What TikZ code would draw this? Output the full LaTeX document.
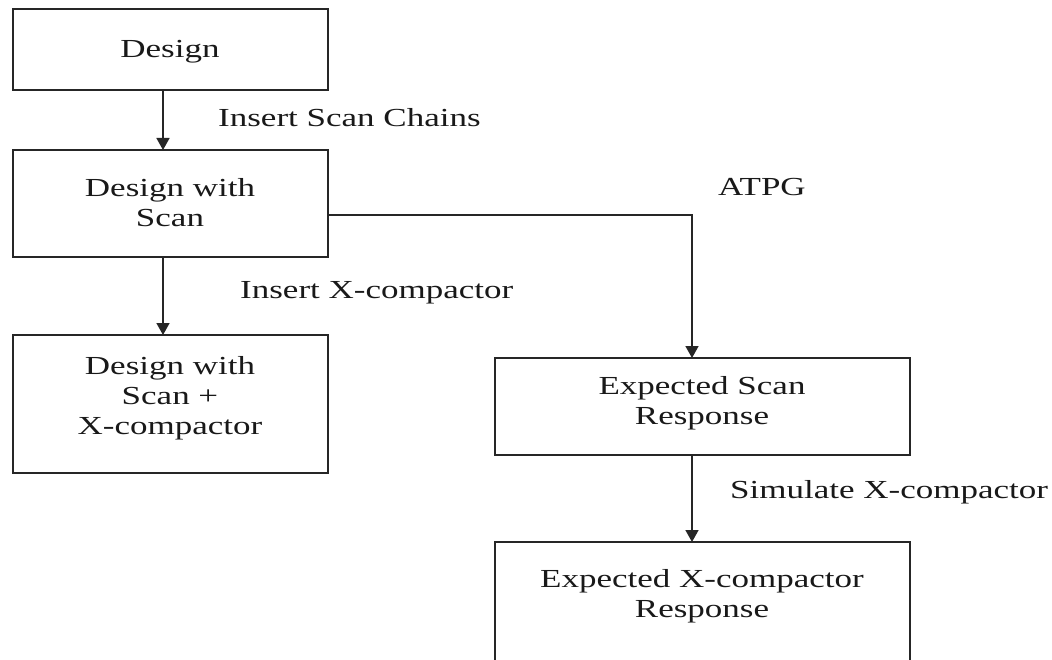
\documentclass[tikz,border=0pt]{standalone}
\usepackage{fontspec}
\setmainfont{Liberation Serif}
\usepackage{graphicx}
\usetikzlibrary{arrows.meta}
% text in this flow chart is set slightly widened
\newcommand\wtext[1]{\scalebox{1.346}[1]{#1}}
\begin{document}
\begin{tikzpicture}[x=1pt,y=-1pt,
  box/.style={draw=black!85, line width=1.8pt, minimum width=315pt, inner sep=0pt, outer sep=0pt},
  widebox/.style={box, minimum width=415pt},
  txt/.style={font=\fontsize{26}{30}\selectfont, align=center, inner sep=0pt, text=black!90},
  lbl/.style={txt, anchor=west},
  link/.style={draw=black!85, line width=1.6pt},
  arr/.style={link, -{Triangle[width=13pt,length=12pt]}}]
\useasboundingbox (0,0) rectangle (1052,660);
\fill[white] (0,0) rectangle (1052,660);
\clip (0,0) rectangle (1052,660);

% boxes
\node[box, minimum height=81pt]  (design)  at (170.5,49.5) {};
\node[box, minimum height=107pt] (scan)    at (170.5,203.5) {};
\node[box, minimum height=138pt] (xcomp)   at (170.5,404) {};
\node[widebox, minimum height=97pt]  (expscan) at (702.5,406.5) {};
\node[widebox, minimum height=160pt] (expx)    at (702.5,622) {};

% box texts
\node[txt] (tdesign)  at (170,52)  {\wtext{Design}};
\node[txt] (tscan)    at (170,203) {\wtext{Design with}\\\wtext{Scan}};
\node[txt] (txcomp)   at (170,398) {\wtext{Design with}\\\wtext{Scan +}\\\wtext{X-compactor}};
\node[txt] (texpscan) at (702,403) {\wtext{Expected Scan}\\\wtext{Response}};
\node[txt] (texpx)    at (702,596) {\wtext{Expected X-compactor}\\\wtext{Response}};

% connectors
\coordinate (lx) at (163,0);
\coordinate (rx) at (692,0);
\coordinate (atpgy) at (0,215);
\draw[arr] (design.south -| lx) -- (scan.north -| lx);
\draw[arr] (scan.south -| lx) -- (xcomp.north -| lx);
\draw[arr] (scan.east |- atpgy) -| (expscan.north -| rx);
\draw[arr] (expscan.south -| rx) -- (expx.north -| rx);

% connector labels
\node[lbl] (l1) at (218,118) {\wtext{Insert Scan Chains}};
\node[lbl] (l2) at (718,187) {\wtext{ATPG}};
\node[lbl] (l3) at (240,293) {\wtext{Insert X-compactor}};
\node[lbl] (l4) at (730,492) {\wtext{Simulate X-compactor}};
\end{tikzpicture}
\end{document}
